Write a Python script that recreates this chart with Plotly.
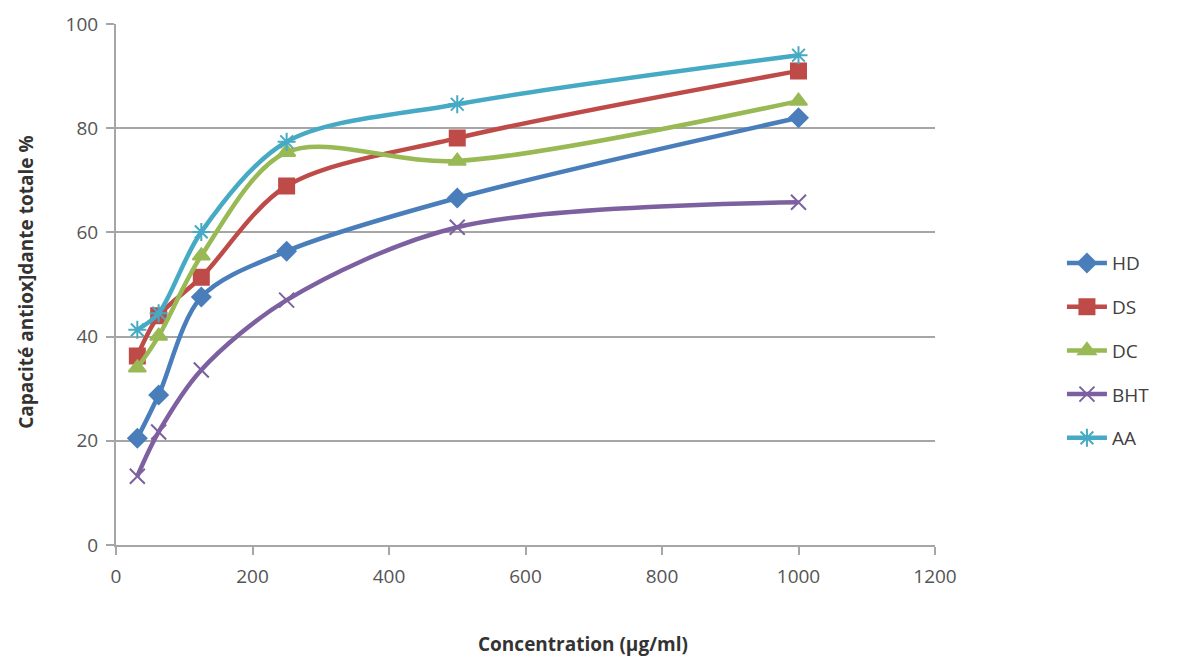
import plotly.graph_objects as go

concentration = [31.25, 62.5, 125, 250, 500, 1000]

hd = [20.5, 28.8, 47.6, 56.4, 66.6, 82.0]
ds = [36.3, 44.0, 51.4, 68.9, 78.1, 91.0]
dc = [34.0, 40.1, 55.5, 75.4, 73.7, 85.2]
bht = [13.2, 21.7, 33.6, 47.0, 61.0, 65.8]
aa = [41.3, 44.5, 60.1, 77.4, 84.6, 94.0]

series = [
    ("HD", hd, "#4A7EBB", "diamond", 14),
    ("DS", ds, "#BE4B48", "square", 15),
    ("DC", dc, "#98B954", "triangle-up", 15),
    ("BHT", bht, "#7D60A0", "x-thin", 15),
    ("AA", aa, "#46AAC5", "asterisk", 15),
]

fig = go.Figure()
for name, vals, color, symbol, size in series:
    fig.add_trace(go.Scatter(
        x=concentration, y=vals, name=name, legendgroup=name,
        mode="lines+markers",
        line=dict(color=color, width=4.5, shape="spline", smoothing=0.9),
        marker=dict(symbol=symbol, size=size, color=color,
                    line=dict(color=color, width=2)),
    ))

font_family = "Open Sans, sans-serif"
axis_font = dict(family=font_family, size=19, color="#555555")
title_font = dict(family=font_family, size=19, color="#333333")

fig.update_layout(
    width=1187, height=660,
    margin=dict(l=116, r=252, t=24, b=115),
    paper_bgcolor="white", plot_bgcolor="white",
    legend=dict(
        x=1.155, xanchor="left", xref="paper", y=0.373, yanchor="middle",
        font=dict(family=font_family, size=19, color="#404040"),
        traceorder="grouped", tracegroupgap=16, itemwidth=40,
    ),
    xaxis=dict(
        range=[0, 1200], tickvals=[0, 200, 400, 600, 800, 1000, 1200],
        showgrid=False, zeroline=False,
        showline=True, linecolor="#A6A6A6", linewidth=2,
        ticks="outside", ticklen=8, tickcolor="#A6A6A6", tickwidth=2,
        tickfont=axis_font, ticklabelstandoff=5,
    ),
    yaxis=dict(
        range=[0, 100], tickvals=[0, 20, 40, 60, 80, 100],
        showgrid=True, gridcolor="#A6A6A6", gridwidth=1.5, zeroline=False,
        showline=True, linecolor="#A6A6A6", linewidth=2,
        ticks="outside", ticklen=8, tickcolor="#A6A6A6", tickwidth=2,
        tickfont=axis_font, ticklabelstandoff=4,
    ),
    annotations=[
        dict(text="<b>Concentration (µg/ml)</b>", xref="paper", yref="paper",
             x=0.570, y=-0.190, xanchor="center", yanchor="middle",
             showarrow=False, font=title_font),
        dict(text="<b>Capacité antiox]dante totale %</b>", xref="paper", yref="paper",
             x=-0.11, y=0.505, xanchor="center", yanchor="middle", textangle=-90,
             showarrow=False, font=title_font),
    ],
)

fig.write_html("out.html")
